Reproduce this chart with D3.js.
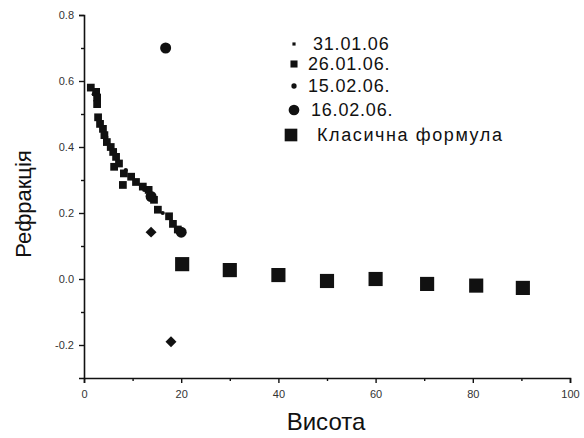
<!DOCTYPE html>
<html><head><meta charset="utf-8">
<script src="https://cdn.jsdelivr.net/npm/d3@7"></script>
<style>
body{margin:0;background:#fff;}
svg{display:block;}
text{font-family:"Liberation Sans",Arial,sans-serif;}
</style></head>
<body><svg id="c" width="584" height="438"></svg>
<script>
// ---- data ----
const xTicks = [0, 20, 40, 60, 80, 100];
const yTicks = [-0.2, 0.0, 0.2, 0.4, 0.6, 0.8];
const legendLabels = ["31.01.06", "26.01.06.", "15.02.06.", "16.02.06.", "Класична формула"];
const xTitle = "Висота";
const yTitle = "Рефракція";

const s310106 = [[2.0,0.56],[4.6,0.43],[8.6,0.33],[12.4,0.27],[16.2,0.20]];
const s260106 = [[1.4,0.58],[2.5,0.567],[2.7,0.55],[2.7,0.53],[2.9,0.49],[3.3,0.47],[3.9,0.455],[4.2,0.436],
  [4.7,0.415],[5.5,0.40],[6.0,0.385],[6.6,0.37],[6.2,0.34],[7.2,0.35],[8.2,0.32],[8.0,0.285],[9.7,0.31],
  [10.7,0.294],[12.1,0.28],[13.3,0.27],[14.4,0.24],[15.2,0.21],[17.5,0.19],[18.3,0.167],[19.3,0.15]];
const s150206 = [[13.8,0.142],[17.9,-0.19]];
const s160206 = [[16.8,0.70],[13.8,0.25],[20.0,0.142]];
const classic = [[20.2,0.045],[30,0.027],[40,0.012],[50,-0.006],[60,0.0],[70.6,-0.015],[80.7,-0.02],[90.3,-0.027]];

// ---- chart ----
const svg = d3.select("#c");
const x = d3.scaleLinear().domain([0,100]).range([84,570]);
const y = d3.scaleLinear().domain([-0.3,0.8]).range([378,15]);

const ink = "#111";

// axes
const xAxis = d3.axisBottom(x).tickValues(d3.range(0,101,10)).tickSize(5)
  .tickFormat(d => xTicks.includes(d) ? d : "");
const gx = svg.append("g").attr("transform",`translate(0,${y(-0.3)})`).call(xAxis);
const yAxis = d3.axisLeft(y).tickValues(d3.range(-3,9).map(v=>v/10)).tickSize(5)
  .tickFormat(d => yTicks.some(t=>Math.abs(t-d)<1e-9) ? d3.format(".1f")(d).replace("−","-") : "");
const gy = svg.append("g").attr("transform",`translate(${x(0)},0)`).call(yAxis);

[gx,gy].forEach(g=>{
  g.select(".domain").attr("stroke",ink).attr("stroke-width",1.6);
  g.selectAll(".tick line").attr("stroke",ink).attr("stroke-width",1.4);
  g.selectAll(".tick text").attr("fill","#333").attr("font-size",11);
});
// minor ticks shorter
gx.selectAll(".tick").filter(d=>!xTicks.includes(d)).select("line").attr("y2",3);
gy.selectAll(".tick").filter(d=>!yTicks.some(t=>Math.abs(t-d)<1e-9)).select("line").attr("x2",-3);
gx.selectAll(".tick text").attr("dy","1.1em");
gy.selectAll(".tick text").attr("x",-10);
gy.selectAll(".tick").filter(d=>Math.abs(d+0.3)<1e-9).remove();

// titles
svg.append("text").attr("x",326).attr("y",430).attr("text-anchor","middle")
  .attr("font-size",24).attr("fill",ink).text(xTitle);
svg.append("text").attr("transform",`translate(31,204) rotate(-90)`).attr("text-anchor","middle")
  .attr("font-size",22).attr("fill",ink).text(yTitle);

// symbols
const sym = {
  dot: d3.symbol().type(d3.symbolCircle).size(14),
  sq: d3.symbol().type(d3.symbolSquare).size(60),
  dia: d3.symbol().type(d3.symbolSquare).size(60),
  circ: d3.symbol().type(d3.symbolCircle).size(95),
  big: d3.symbol().type(d3.symbolSquare).size(200)
};
function plot(data, s, rot){
  svg.append("g").selectAll("path").data(data).join("path")
    .attr("transform",d=>`translate(${x(d[0])},${y(d[1])})` + (rot?` rotate(${rot})`:""))
    .attr("d",s).attr("fill",ink);
}
plot(s260106, sym.sq);
plot(s310106, sym.dot);
plot(s150206, sym.dia, 45);
plot(s160206, sym.circ);
plot(classic, sym.big);

// legend
const legSyms = [d3.symbol().type(d3.symbolSquare).size(10), d3.symbol().type(d3.symbolSquare).size(50),
  d3.symbol().type(d3.symbolCircle).size(22), d3.symbol().type(d3.symbolCircle).size(90),
  d3.symbol().type(d3.symbolSquare).size(160)];
const legY = [44,64,86,110,135];
const legTX = [313,308,308,311,317];
const leg = svg.append("g");
legendLabels.forEach((lab,i)=>{
  leg.append("path").attr("transform",`translate(${i===4?291:294},${legY[i]})`).attr("d",legSyms[i]).attr("fill",ink);
  leg.append("text").attr("x",legTX[i]).attr("y",legY[i]).attr("dy","0.36em")
    .attr("font-size",18).attr("letter-spacing",i===4?1.6:0.8).attr("fill",ink).text(lab);
});
</script></body></html>
